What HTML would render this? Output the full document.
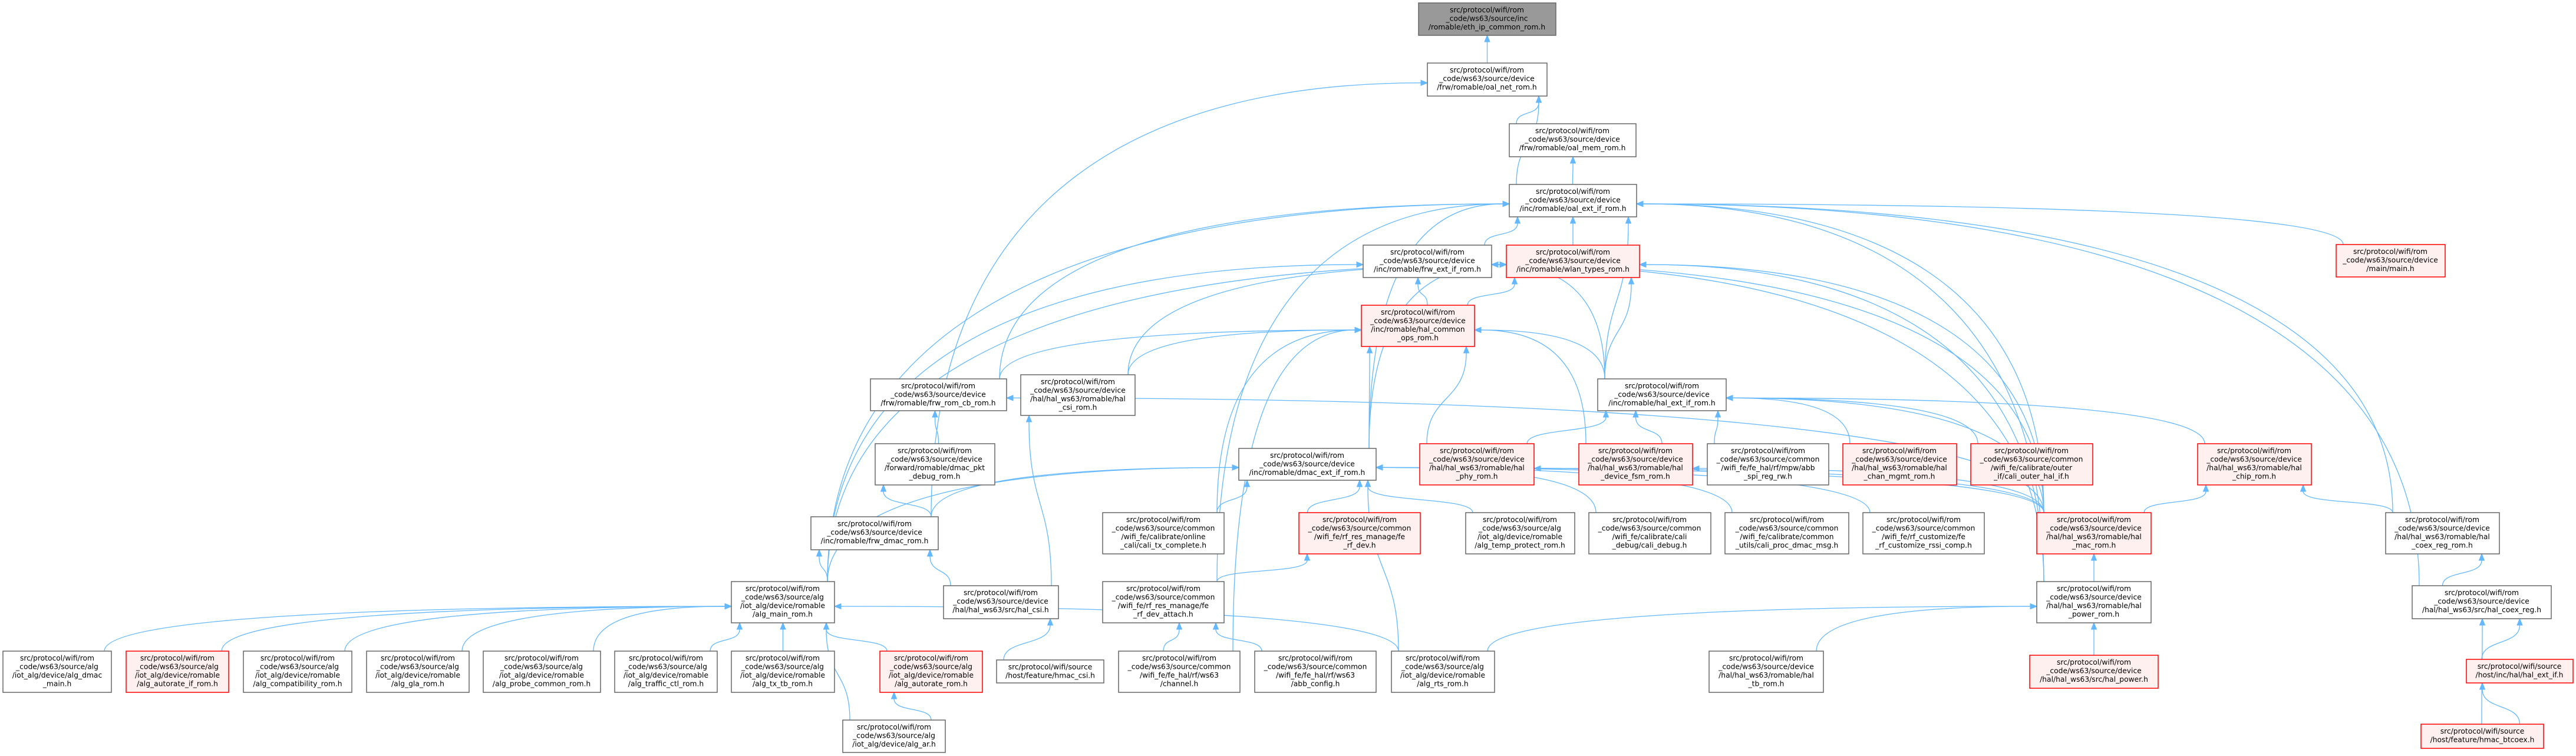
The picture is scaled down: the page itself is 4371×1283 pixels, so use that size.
<!DOCTYPE html>
<html><head><meta charset="utf-8">
<style>
html,body{margin:0;padding:0;background:#fff;}
svg{display:block;}
text{font-family:"DejaVu Sans","Liberation Sans",sans-serif;font-size:12.3px;fill:#000;text-anchor:middle;}
.n{fill:#fff;stroke:#666;stroke-width:1.5;}
.r{fill:#fff0f0;stroke:#f00;stroke-width:1.5;}
.g{fill:#999;stroke:#666;stroke-width:1.5;}
</style></head>
<body>
<svg id="s" width="4371" height="1283" viewBox="0 0 4371 1283" xmlns="http://www.w3.org/2000/svg">
<g id="edges" fill="none" stroke="#63b8ff" stroke-width="1.3"></g>
<g id="arrows" fill="#63b8ff" stroke="#63b8ff" stroke-width="1"></g>
<g id="nodes">
<rect id="root" class="g" x="2407" y="5" width="233" height="55"/><text x="2523" y="21">src/protocol/wifi/rom</text><text x="2523" y="35.5">_code/ws63/source/inc</text><text x="2523" y="50">/romable/eth_ip_common_rom.h</text>
<rect id="oalnet" class="n" x="2422" y="107" width="203" height="56"/><text x="2523" y="123">src/protocol/wifi/rom</text><text x="2523" y="137.5">_code/ws63/source/device</text><text x="2523" y="152">/frw/romable/oal_net_rom.h</text>
<rect id="oalmem" class="n" x="2561" y="210" width="215" height="56"/><text x="2668" y="226">src/protocol/wifi/rom</text><text x="2668" y="240.5">_code/ws63/source/device</text><text x="2668" y="255">/frw/romable/oal_mem_rom.h</text>
<rect id="oalext" class="n" x="2561" y="313" width="216" height="55"/><text x="2669" y="329">src/protocol/wifi/rom</text><text x="2669" y="343.5">_code/ws63/source/device</text><text x="2669" y="358">/inc/romable/oal_ext_if_rom.h</text>
<rect id="frwext" class="n" x="2313" y="416" width="218" height="55"/><text x="2422" y="432">src/protocol/wifi/rom</text><text x="2422" y="446.5">_code/ws63/source/device</text><text x="2422" y="461">/inc/romable/frw_ext_if_rom.h</text>
<rect id="wlan" class="r" x="2556" y="416" width="226" height="55"/><text x="2669" y="432">src/protocol/wifi/rom</text><text x="2669" y="446.5">_code/ws63/source/device</text><text x="2669" y="461">/inc/romable/wlan_types_rom.h</text>
<rect id="main" class="r" x="3964" y="415" width="185" height="55"/><text x="4056" y="431">src/protocol/wifi/rom</text><text x="4056" y="445.5">_code/ws63/source/device</text><text x="4056" y="460">/main/main.h</text>
<rect id="ops" class="r" x="2310" y="518" width="192" height="70"/><text x="2406" y="534">src/protocol/wifi/rom</text><text x="2406" y="548.5">_code/ws63/source/device</text><text x="2406" y="563">/inc/romable/hal_common</text><text x="2406" y="577.5">_ops_rom.h</text>
<rect id="frwcb" class="n" x="1477" y="643" width="231" height="54"/><text x="1592" y="659">src/protocol/wifi/rom</text><text x="1592" y="673.5">_code/ws63/source/device</text><text x="1592" y="688">/frw/romable/frw_rom_cb_rom.h</text>
<rect id="csirom" class="n" x="1732" y="636" width="194" height="69"/><text x="1829" y="652">src/protocol/wifi/rom</text><text x="1829" y="666.5">_code/ws63/source/device</text><text x="1829" y="681">/hal/hal_ws63/romable/hal</text><text x="1829" y="695.5">_csi_rom.h</text>
<rect id="halext" class="n" x="2711" y="643" width="218" height="54"/><text x="2820" y="659">src/protocol/wifi/rom</text><text x="2820" y="673.5">_code/ws63/source/device</text><text x="2820" y="688">/inc/romable/hal_ext_if_rom.h</text>
<rect id="pktdbg" class="n" x="1485" y="753" width="203" height="70"/><text x="1586" y="769">src/protocol/wifi/rom</text><text x="1586" y="783.5">_code/ws63/source/device</text><text x="1586" y="798">/forward/romable/dmac_pkt</text><text x="1586" y="812.5">_debug_rom.h</text>
<rect id="dmacext" class="n" x="2102" y="761" width="233" height="54"/><text x="2218" y="777">src/protocol/wifi/rom</text><text x="2218" y="791.5">_code/ws63/source/device</text><text x="2218" y="806">/inc/romable/dmac_ext_if_rom.h</text>
<rect id="phy" class="r" x="2409" y="753" width="194" height="70"/><text x="2506" y="769">src/protocol/wifi/rom</text><text x="2506" y="783.5">_code/ws63/source/device</text><text x="2506" y="798">/hal/hal_ws63/romable/hal</text><text x="2506" y="812.5">_phy_rom.h</text>
<rect id="fsm" class="r" x="2679" y="753" width="193" height="70"/><text x="2775" y="769">src/protocol/wifi/rom</text><text x="2775" y="783.5">_code/ws63/source/device</text><text x="2775" y="798">/hal/hal_ws63/romable/hal</text><text x="2775" y="812.5">_device_fsm_rom.h</text>
<rect id="abbspi" class="n" x="2897" y="753" width="206" height="70"/><text x="3000" y="769">src/protocol/wifi/rom</text><text x="3000" y="783.5">_code/ws63/source/common</text><text x="3000" y="798">/wifi_fe/fe_hal/rf/mpw/abb</text><text x="3000" y="812.5">_spi_reg_rw.h</text>
<rect id="chan" class="r" x="3127" y="753" width="193" height="70"/><text x="3223" y="769">src/protocol/wifi/rom</text><text x="3223" y="783.5">_code/ws63/source/device</text><text x="3223" y="798">/hal/hal_ws63/romable/hal</text><text x="3223" y="812.5">_chan_mgmt_rom.h</text>
<rect id="outer" class="r" x="3344" y="753" width="207" height="70"/><text x="3447" y="769">src/protocol/wifi/rom</text><text x="3447" y="783.5">_code/ws63/source/common</text><text x="3447" y="798">/wifi_fe/calibrate/outer</text><text x="3447" y="812.5">_if/cali_outer_hal_if.h</text>
<rect id="chip" class="r" x="3729" y="753" width="193" height="70"/><text x="3825" y="769">src/protocol/wifi/rom</text><text x="3825" y="783.5">_code/ws63/source/device</text><text x="3825" y="798">/hal/hal_ws63/romable/hal</text><text x="3825" y="812.5">_chip_rom.h</text>
<rect id="frwdmac" class="n" x="1376" y="877" width="216" height="56"/><text x="1484" y="893">src/protocol/wifi/rom</text><text x="1484" y="907.5">_code/ws63/source/device</text><text x="1484" y="922">/inc/romable/frw_dmac_rom.h</text>
<rect id="txc" class="n" x="1871" y="870" width="206" height="70"/><text x="1974" y="886">src/protocol/wifi/rom</text><text x="1974" y="900.5">_code/ws63/source/common</text><text x="1974" y="915">/wifi_fe/calibrate/online</text><text x="1974" y="929.5">_cali/cali_tx_complete.h</text>
<rect id="rfdev" class="r" x="2204" y="870" width="206" height="70"/><text x="2307" y="886">src/protocol/wifi/rom</text><text x="2307" y="900.5">_code/ws63/source/common</text><text x="2307" y="915">/wifi_fe/rf_res_manage/fe</text><text x="2307" y="929.5">_rf_dev.h</text>
<rect id="temp" class="n" x="2487" y="870" width="185" height="70"/><text x="2579" y="886">src/protocol/wifi/rom</text><text x="2579" y="900.5">_code/ws63/source/alg</text><text x="2579" y="915">/iot_alg/device/romable</text><text x="2579" y="929.5">/alg_temp_protect_rom.h</text>
<rect id="calidbg" class="n" x="2696" y="870" width="207" height="70"/><text x="2799" y="886">src/protocol/wifi/rom</text><text x="2799" y="900.5">_code/ws63/source/common</text><text x="2799" y="915">/wifi_fe/calibrate/cali</text><text x="2799" y="929.5">_debug/cali_debug.h</text>
<rect id="proc" class="n" x="2927" y="870" width="210" height="70"/><text x="3032" y="886">src/protocol/wifi/rom</text><text x="3032" y="900.5">_code/ws63/source/common</text><text x="3032" y="915">/wifi_fe/calibrate/common</text><text x="3032" y="929.5">_utils/cali_proc_dmac_msg.h</text>
<rect id="rssi" class="n" x="3161" y="870" width="206" height="70"/><text x="3264" y="886">src/protocol/wifi/rom</text><text x="3264" y="900.5">_code/ws63/source/common</text><text x="3264" y="915">/wifi_fe/rf_customize/fe</text><text x="3264" y="929.5">_rf_customize_rssi_comp.h</text>
<rect id="mac" class="r" x="3456" y="870" width="194" height="70"/><text x="3553" y="886">src/protocol/wifi/rom</text><text x="3553" y="900.5">_code/ws63/source/device</text><text x="3553" y="915">/hal/hal_ws63/romable/hal</text><text x="3553" y="929.5">_mac_rom.h</text>
<rect id="coexrom" class="n" x="4048" y="870" width="193" height="70"/><text x="4144" y="886">src/protocol/wifi/rom</text><text x="4144" y="900.5">_code/ws63/source/device</text><text x="4144" y="915">/hal/hal_ws63/romable/hal</text><text x="4144" y="929.5">_coex_reg_rom.h</text>
<rect id="algmain" class="n" x="1241" y="987" width="175" height="70"/><text x="1328" y="1003">src/protocol/wifi/rom</text><text x="1328" y="1017.5">_code/ws63/source/alg</text><text x="1328" y="1032">/iot_alg/device/romable</text><text x="1328" y="1046.5">/alg_main_rom.h</text>
<rect id="halcsi" class="n" x="1601" y="994" width="195" height="56"/><text x="1698" y="1010">src/protocol/wifi/rom</text><text x="1698" y="1024.5">_code/ws63/source/device</text><text x="1698" y="1039">/hal/hal_ws63/src/hal_csi.h</text>
<rect id="attach" class="n" x="1871" y="987" width="206" height="70"/><text x="1974" y="1003">src/protocol/wifi/rom</text><text x="1974" y="1017.5">_code/ws63/source/common</text><text x="1974" y="1032">/wifi_fe/rf_res_manage/fe</text><text x="1974" y="1046.5">_rf_dev_attach.h</text>
<rect id="power" class="n" x="3456" y="987" width="194" height="70"/><text x="3553" y="1003">src/protocol/wifi/rom</text><text x="3553" y="1017.5">_code/ws63/source/device</text><text x="3553" y="1032">/hal/hal_ws63/romable/hal</text><text x="3553" y="1046.5">_power_rom.h</text>
<rect id="coexh" class="n" x="4093" y="994" width="236" height="56"/><text x="4211" y="1010">src/protocol/wifi/rom</text><text x="4211" y="1024.5">_code/ws63/source/device</text><text x="4211" y="1039">/hal/hal_ws63/src/hal_coex_reg.h</text>
<rect id="dmacmain" class="n" x="5" y="1105" width="184" height="70"/><text x="97" y="1121">src/protocol/wifi/rom</text><text x="97" y="1135.5">_code/ws63/source/alg</text><text x="97" y="1150">/iot_alg/device/alg_dmac</text><text x="97" y="1164.5">_main.h</text>
<rect id="autoif" class="r" x="214" y="1105" width="174" height="70"/><text x="301" y="1121">src/protocol/wifi/rom</text><text x="301" y="1135.5">_code/ws63/source/alg</text><text x="301" y="1150">/iot_alg/device/romable</text><text x="301" y="1164.5">/alg_autorate_if_rom.h</text>
<rect id="compat" class="n" x="413" y="1105" width="184" height="70"/><text x="505" y="1121">src/protocol/wifi/rom</text><text x="505" y="1135.5">_code/ws63/source/alg</text><text x="505" y="1150">/iot_alg/device/romable</text><text x="505" y="1164.5">/alg_compatibility_rom.h</text>
<rect id="gla" class="n" x="622" y="1105" width="174" height="70"/><text x="709" y="1121">src/protocol/wifi/rom</text><text x="709" y="1135.5">_code/ws63/source/alg</text><text x="709" y="1150">/iot_alg/device/romable</text><text x="709" y="1164.5">/alg_gla_rom.h</text>
<rect id="probe" class="n" x="820" y="1105" width="199" height="70"/><text x="919" y="1121">src/protocol/wifi/rom</text><text x="919" y="1135.5">_code/ws63/source/alg</text><text x="919" y="1150">/iot_alg/device/romable</text><text x="919" y="1164.5">/alg_probe_common_rom.h</text>
<rect id="traffic" class="n" x="1043" y="1105" width="174" height="70"/><text x="1130" y="1121">src/protocol/wifi/rom</text><text x="1130" y="1135.5">_code/ws63/source/alg</text><text x="1130" y="1150">/iot_alg/device/romable</text><text x="1130" y="1164.5">/alg_traffic_ctl_rom.h</text>
<rect id="txtb" class="n" x="1241" y="1105" width="175" height="70"/><text x="1328" y="1121">src/protocol/wifi/rom</text><text x="1328" y="1135.5">_code/ws63/source/alg</text><text x="1328" y="1150">/iot_alg/device/romable</text><text x="1328" y="1164.5">/alg_tx_tb_rom.h</text>
<rect id="autorate" class="r" x="1493" y="1105" width="174" height="70"/><text x="1580" y="1121">src/protocol/wifi/rom</text><text x="1580" y="1135.5">_code/ws63/source/alg</text><text x="1580" y="1150">/iot_alg/device/romable</text><text x="1580" y="1164.5">/alg_autorate_rom.h</text>
<rect id="hmaccsi" class="n" x="1691" y="1120" width="182" height="39"/><text x="1782" y="1136">src/protocol/wifi/source</text><text x="1782" y="1150.5">/host/feature/hmac_csi.h</text>
<rect id="channel" class="n" x="1898" y="1105" width="206" height="70"/><text x="2001" y="1121">src/protocol/wifi/rom</text><text x="2001" y="1135.5">_code/ws63/source/common</text><text x="2001" y="1150">/wifi_fe/fe_hal/rf/ws63</text><text x="2001" y="1164.5">/channel.h</text>
<rect id="abb" class="n" x="2129" y="1105" width="206" height="70"/><text x="2232" y="1121">src/protocol/wifi/rom</text><text x="2232" y="1135.5">_code/ws63/source/common</text><text x="2232" y="1150">/wifi_fe/fe_hal/rf/ws63</text><text x="2232" y="1164.5">/abb_config.h</text>
<rect id="rts" class="n" x="2361" y="1105" width="175" height="70"/><text x="2448" y="1121">src/protocol/wifi/rom</text><text x="2448" y="1135.5">_code/ws63/source/alg</text><text x="2448" y="1150">/iot_alg/device/romable</text><text x="2448" y="1164.5">/alg_rts_rom.h</text>
<rect id="tb" class="n" x="2900" y="1105" width="194" height="70"/><text x="2997" y="1121">src/protocol/wifi/rom</text><text x="2997" y="1135.5">_code/ws63/source/device</text><text x="2997" y="1150">/hal/hal_ws63/romable/hal</text><text x="2997" y="1164.5">_tb_rom.h</text>
<rect id="powerh" class="r" x="3444" y="1112" width="218" height="56"/><text x="3553" y="1128">src/protocol/wifi/rom</text><text x="3553" y="1142.5">_code/ws63/source/device</text><text x="3553" y="1157">/hal/hal_ws63/src/hal_power.h</text>
<rect id="extifh" class="r" x="4185" y="1119" width="181" height="40"/><text x="4275" y="1135">src/protocol/wifi/source</text><text x="4275" y="1149.5">/host/inc/hal/hal_ext_if.h</text>
<rect id="ar" class="n" x="1430" y="1222" width="174" height="55"/><text x="1517" y="1238">src/protocol/wifi/rom</text><text x="1517" y="1252.5">_code/ws63/source/alg</text><text x="1517" y="1267">/iot_alg/device/alg_ar.h</text>
<rect id="btcoex" class="r" x="4108" y="1229" width="208" height="41"/><text x="4212" y="1245">src/protocol/wifi/source</text><text x="4212" y="1259.5">/host/feature/hmac_btcoex.h</text>
</g>
</svg>
<script>
(function(){
var E=[["oalnet","root"],["oalmem","oalnet"],["oalext","oalnet"],["oalext","oalmem"],["frwdmac","oalnet"],
["frwext","oalext"],["wlan","oalext"],["main","oalext"],["halext","oalext"],["dmacext","oalext"],["frwcb","oalext"],["algmain","oalext"],["attach","oalext"],["power","oalext"],["coexh","oalext"],["coexrom","oalext"],["mac","oalext"],
["ops","frwext"],["ops","wlan"],["halext","frwext"],["halext","wlan"],["halext","ops"],["dmacext","wlan"],["dmacext","ops"],["algmain","frwext"],["algmain","wlan"],["csirom","ops"],["csirom","wlan"],["frwcb","ops"],["phy","ops"],["phy","halext"],["fsm","ops"],["fsm","halext"],["mac","halext"],["mac","wlan"],["mac","frwext"],["power","wlan"],["power","frwext"],["abbspi","halext"],["chan","halext"],["outer","halext"],["chip","halext"],["mac","chip"],["coexrom","chip"],["power","mac"],["powerh","power"],["tb","power"],["rts","power"],
["txc","dmacext"],["rfdev","dmacext"],["temp","dmacext"],["calidbg","dmacext"],["proc","dmacext"],["rssi","dmacext"],["mac","dmacext"],["frwdmac","dmacext"],["algmain","dmacext"],["rts","dmacext"],["txc","ops"],["channel","ops"],
["pktdbg","frwcb"],["frwdmac","pktdbg"],["algmain","frwdmac"],["halcsi","frwdmac"],["halcsi","csirom"],["hmaccsi","halcsi"],["attach","rfdev"],["channel","attach"],["abb","attach"],["mac","frwcb"],["mac","phy"],["mac","fsm"],
["dmacmain","algmain"],["autoif","algmain"],["compat","algmain"],["gla","algmain"],["probe","algmain"],["traffic","algmain"],["txtb","algmain"],["autorate","algmain"],["ar","autorate"],["ar","algmain"],["rts","algmain"],
["extifh","coexh"],["btcoex","extifh"],["btcoex","coexh"],["coexh","coexrom"]];
function R(id){var r=document.getElementById(id);return{x:+r.getAttribute("x"),y:+r.getAttribute("y"),w:+r.getAttribute("width"),h:+r.getAttribute("height")};}
var ge=document.getElementById("edges"),ga=document.getElementById("arrows"),NS="http://www.w3.org/2000/svg";
function cl(v,a,b){return Math.max(a,Math.min(b,v));}
E.forEach(function(e){
 var s=R(e[0]),t=R(e[1]);
 var scx=s.x+s.w/2,tcx=t.x+t.w/2;
 var sx=cl(tcx,s.x+12,s.x+s.w-12),sy=s.y;
 var tx,ty,dx,dy,c1x,c1y,c2x,c2y;
 var below=t.y+t.h;
 var far=(scx<t.x-250)||(scx>t.x+t.w+250);
 if(far){
  var dir=(scx<tcx)?1:-1;
  tx=(dir>0)?t.x:t.x+t.w;
  ty=t.y+t.h*0.6;
  dx=dir;dy=0;
  c1x=sx;c1y=ty+(sy-ty)*0.25;
  c2x=tx-dir*Math.abs(tx-sx)*0.55;c2y=ty;
 } else {
  tx=cl(scx,t.x+14,t.x+t.w-14);ty=below;
  var d=(sy-ty)*0.5;
  c1x=sx;c1y=sy-d;c2x=tx;c2y=ty+d;
  dx=0;dy=-1;
 }
 var L=11,W=4.5;
 var ex=tx-dx*L,ey=ty-dy*L;
 var p=document.createElementNS(NS,"path");
 p.setAttribute("d","M"+sx+","+sy+" C"+c1x+","+c1y+" "+(c2x-dx*L)+","+(c2y-dy*L)+" "+ex+","+ey);
 ge.appendChild(p);
 var a=document.createElementNS(NS,"polygon");
 var px=-dy,py=dx;
 a.setAttribute("points",tx+","+ty+" "+(ex+px*W)+","+(ey+py*W)+" "+(ex-px*W)+","+(ey-py*W));
 ga.appendChild(a);
});
})();
</script>
</body></html>
